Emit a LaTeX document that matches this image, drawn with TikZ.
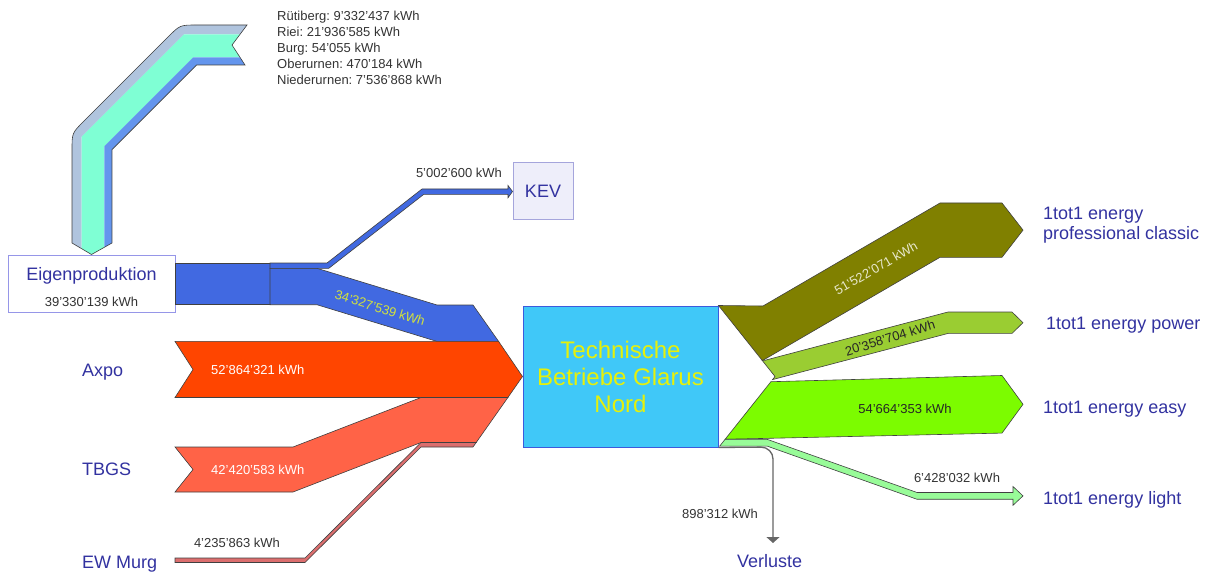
\documentclass[tikz,border=0pt]{standalone}
\usepackage{fontspec}
\setmainfont{Liberation Sans}
\usepackage{tikz}
\usetikzlibrary{arrows.meta, positioning, calc}
\definecolor{cRuti}{RGB}{176,196,222}
\definecolor{cRiei}{RGB}{127,255,212}
\definecolor{cNieder}{RGB}{100,149,237}
\definecolor{cEigen}{RGB}{65,105,225}
\definecolor{cAxpo}{RGB}{255,69,0}
\definecolor{cTBGS}{RGB}{255,99,71}
\definecolor{cMurg}{RGB}{220,110,110}
\definecolor{cTbgn}{RGB}{64,200,248}
\definecolor{cTbgnLine}{RGB}{60,90,220}
\definecolor{cYellow}{RGB}{230,240,10}
\definecolor{cOlive}{RGB}{128,128,0}
\definecolor{cPower}{RGB}{154,205,50}
\definecolor{cEasy}{RGB}{124,252,0}
\definecolor{cLight}{RGB}{152,251,152}
\definecolor{cLabel}{RGB}{50,50,160}
\definecolor{cBoxLine}{RGB}{150,150,232}
\definecolor{cKevFill}{RGB}{238,238,250}
\definecolor{cKevLine}{RGB}{165,165,220}
\definecolor{cBlueTxt}{RGB}{210,225,60}
\definecolor{cOliveTxt}{RGB}{232,232,205}
\tikzset{
	flow/.style   ={draw=black!75, line width=0.6pt, line join=miter},
	srcname/.style={font=\fontsize{18}{21}\selectfont, text=cLabel, inner sep=0pt},
	kwh/.style    ={font=\fontsize{13}{16}\selectfont, text=black!80, inner sep=0pt},
	lossline/.style={draw=black!60, line width=1.3pt},
}
\frenchspacing

\begin{document}
\begin{tikzpicture}[x=1pt, y=-1pt]
	\useasboundingbox (0,0) rectangle (1210,572);
	% boxes
	\node[draw=cBoxLine, fill=white, line width=1pt, minimum width=167pt, minimum height=57pt] (eigen) at (91.5,283.5) {};
	\node[srcname, anchor=base] (eigenname) at (91.5,280) {Eigenproduktion};
	\node[kwh, anchor=base] (eigenkwh) at (91.5,306) {39'330'139 kWh};
	\node[draw=cKevLine, fill=cKevFill, line width=1pt, minimum width=60pt, minimum height=57pt, srcname] (kev) at (543,191.5) {KEV};
	\node[draw=cTbgnLine, fill=cTbgn, line width=1pt, minimum width=195pt, minimum height=141pt, align=center, text=cYellow, font=\fontsize{24}{27}\selectfont] (tbgn) at (620.5,376.5) {Technische\\Betriebe Glarus\\Nord};
	% plants into Eigenproduktion
	\begin{scope}
		\clip (eigen.north) -- (72,243) -- (72,150) .. controls (72,133) .. (84,121) -- (168,37) .. controls (180,25) .. (197,25) -- (247,25) -- (232,45) -- (245,65) -- (196.6,65) -- (112,149.6) -- (112,243) -- cycle;
		\foreach \ba/\bb/\bcol in {0/9.5/cRuti, 9.5/32.3/cRiei, 32.3/40/cNieder}{
			\pgfmathsetmacro\bmid{(\ba+\bb)/2}
			\pgfmathsetmacro\bwid{\bb-\ba}
			\draw[color=\bcol, line width=\bwid pt, line join=miter] (72+\bmid,270) -- (72+\bmid,133+0.414*\bmid) -- (180+0.414*\bmid,25+\bmid) -- (262,25+\bmid);
		}
	\end{scope}
	\draw[flow] (eigen.north) -- (72,243) -- (72,150) .. controls (72,133) .. (84,121) -- (168,37) .. controls (180,25) .. (197,25) -- (247,25) -- (232,45) -- (245,65) -- (196.6,65) -- (112,149.6) -- (112,243) -- cycle;
	\foreach \txt [count=\i] in {Rütiberg: 9'332'437 kWh, Riei: 21'936'585 kWh, Burg: 54'055 kWh, Oberurnen: 470'184 kWh, Niederurnen: 7'536'868 kWh}
		\node[kwh, anchor=base west] (plant\i) at (277,{20.7+16*(\i-1)}) {\txt};
	% Eigenproduktion out: KEV and TBGN
	\draw[flow, fill=cEigen] (eigen.east |- 0,263) rectangle (270,304.73);
	\draw[flow, fill=cEigen] (270,268.31) -- (317,268.31) -- (437,305) -- (473,305) -- (498.6,341.42) -- (437,341.42) -- (317,304.73) -- (270,304.73) -- cycle;
	\draw[flow, fill=cEigen] (270,263) -- (327,263) -- (422,189) -- (508,189) -- (508,185.5) -- (kev.west) -- (508,197.8) -- (508,194.31) -- (423.8,194.31) -- (328.8,268.31) -- (270,268.31) -- cycle;
	\node[kwh, anchor=base] (kevkwh) at (459,178) {5'002'600 kWh};
	\node[kwh, text=cBlueTxt, rotate=-17] (eigenflow) at (380,308) {34'327'539 kWh};
	% suppliers into TBGN
	\draw[flow, fill=cAxpo] (175,341.42) -- (498.6,341.42) -- (tbgn.west) -- (507.9,397.5) -- (175,397.5) -- (193,369.5) -- cycle;
	\draw[flow, fill=cTBGS] (175,447) -- (293,447) -- (421,397.5) -- (507.9,397.5) -- (476.2,442.5) -- (421,442.5) -- (293,492) -- (175,492) -- (193,469.5) -- cycle;
	\draw[flow, fill=cMurg] (175,558) -- (305,558) -- (421,442.5) -- (476.2,442.5) -- (473,447) -- (421,447) -- (305,562.5) -- (175,562.5) -- cycle;
	\node[kwh, anchor=base west, text=white] (axpokwh) at (211,374.5) {52'864'321 kWh};
	\node[kwh, anchor=base west, text=white] (tbgskwh) at (211,474.5) {42'420'583 kWh};
	\node[kwh, anchor=base] (murgkwh) at (237,547) {4'235'863 kWh};
	\node[srcname, anchor=base west] (axpo) at (82,376) {Axpo};
	\node[srcname, anchor=base west] (tbgs) at (82,475) {TBGS};
	\node[srcname, anchor=base west] (murg) at (82,568) {EW Murg};
	% TBGN out: products and losses
	\draw[flow, fill=cOlive] (tbgn.north east) -- (763,306) -- (940,203) -- (1002,203) -- (1023,230.1) -- (1002,257.3) -- (940,257.3) -- (763,360.27) -- (762.1,360.27) -- cycle;
	\draw[flow, fill=cPower] (762.1,360.27) -- (765,360.27) -- (948,312) -- (1012,312) -- (1023,322.7) -- (1012,333.44) -- (948,333.44) -- (772.5,379.6) -- (775,376.5) -- cycle;
	\draw[flow, fill=cEasy] (770.9,381.71) -- (1002,375.5) -- (1023,404.3) -- (1002,433.1) -- (725.1,439.29) -- cycle;
	\draw[flow, fill=cLight] (725.1,439.29) -- (767,439.29) -- (917,492.5) -- (1013,492.5) -- (1013,486.5) -- (1023,495.9) -- (1013,505.3) -- (1013,499.27) -- (917,499.27) -- (767,446.06) -- (719.7,446.06) -- cycle;
	\draw[lossline, rounded corners=12pt, -{Triangle[width=13pt,length=6pt]}] (tbgn.south east) -- (773,447) -- (773,543);
	\node[kwh, rotate=30, text=cOliveTxt] (classickwh) at (876,268) {51'522'071 kWh};
	\node[kwh, rotate=17, text=black!85] (powerkwh) at (890,338) {20'358'704 kWh};
	\node[kwh, anchor=base, text=black!85] (easykwh) at (905,413.5) {54'664'353 kWh};
	\node[kwh, anchor=base] (lightkwh) at (957,482) {6'428'032 kWh};
	\node[kwh, anchor=base] (losskwh) at (720,518) {898'312 kWh};
	\node[srcname, anchor=base west] (classic) at (1043,220) {1tot1 energy};
	\node[srcname, anchor=base west] (classic2) at (1043,240) {professional classic};
	\node[srcname, anchor=base west] (power) at (1046,329) {1tot1 energy power};
	\node[srcname, anchor=base west] (easy) at (1043,413) {1tot1 energy easy};
	\node[srcname, anchor=base west] (light) at (1043,504) {1tot1 energy light};
	\node[srcname, anchor=base west] (verluste) at (737,567) {Verluste};
\end{tikzpicture}
\end{document}
